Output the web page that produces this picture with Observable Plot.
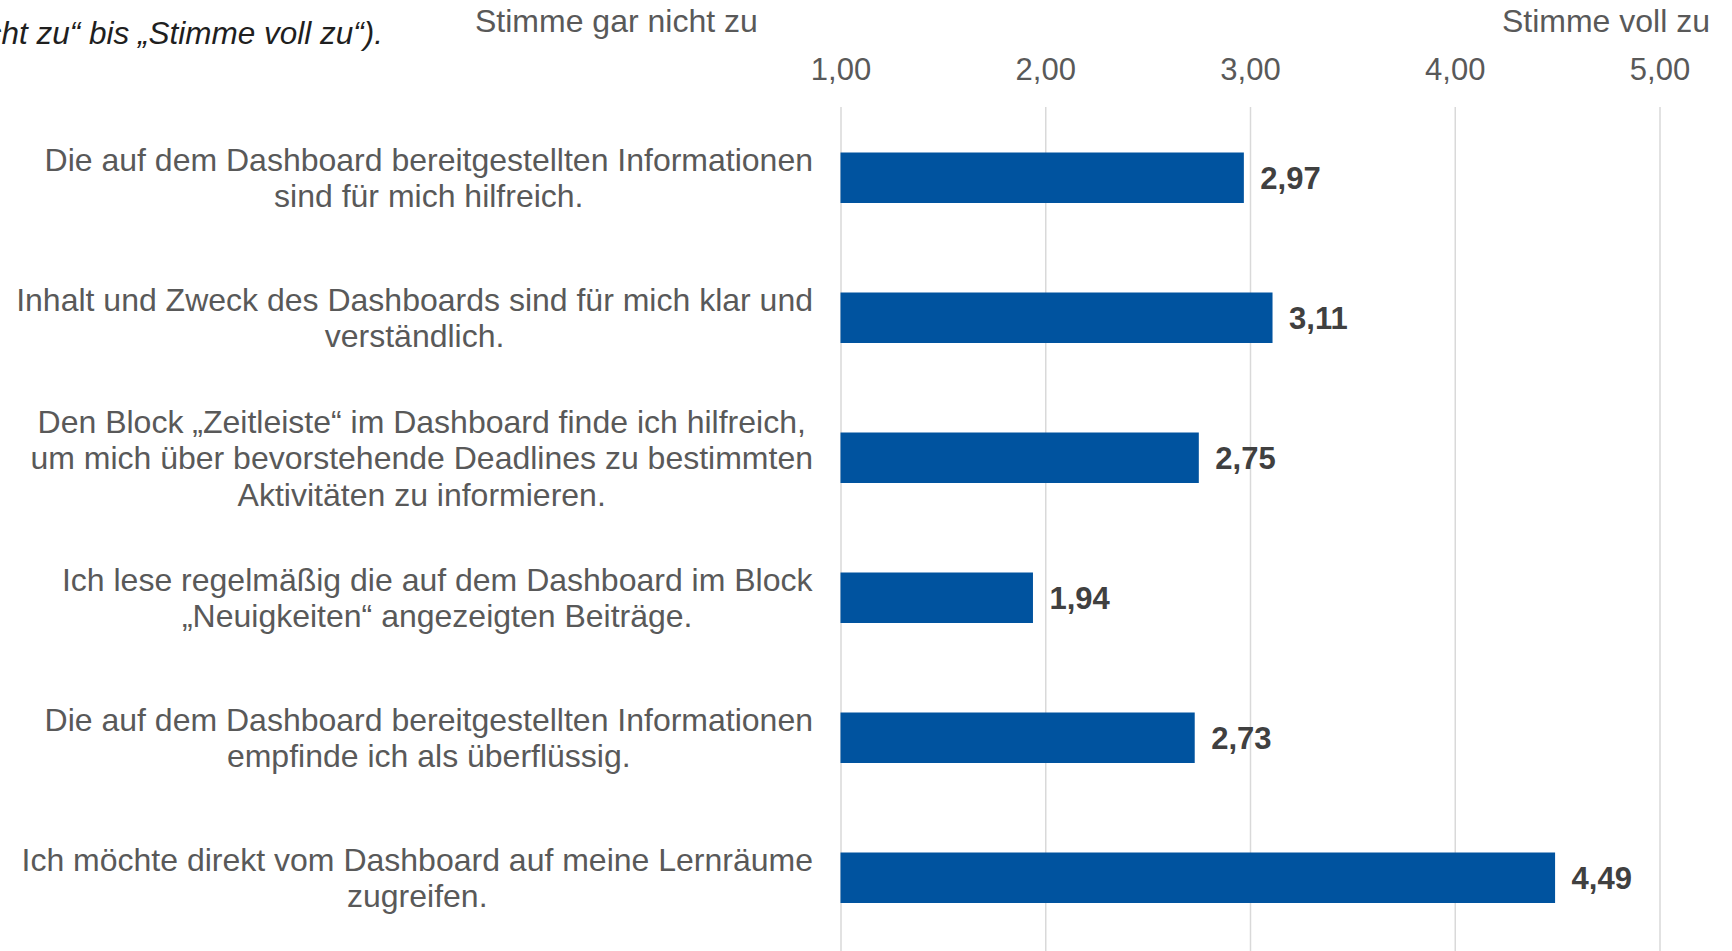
<!DOCTYPE html>
<html><head><meta charset="utf-8">
<script src="https://cdn.jsdelivr.net/npm/d3@7"></script>
<script src="https://cdn.jsdelivr.net/npm/@observablehq/plot@0.6"></script>
<style>
html,body{margin:0;padding:0;background:#fff;overflow:hidden;width:1732px;height:951px;}
body{position:relative;font-family:"Liberation Sans",Arial,sans-serif;}
.note{position:absolute;white-space:nowrap;line-height:1;z-index:2;}
#chart{position:absolute;left:0;top:0;z-index:1;}
</style></head><body>
<div class="note" id="cap" style="right:1349px;top:18px;font-size:31.5px;font-style:italic;color:#1f1f1f;"></div>
<div class="note" id="low" style="left:475px;top:5px;font-size:32px;color:#595959;"></div>
<div class="note" id="high" style="right:22px;top:5px;font-size:32px;color:#595959;"></div>
<div id="chart"></div>
<script>
const statements = [
  "Die auf dem Dashboard bereitgestellten Informationen\nsind für mich hilfreich.",
  "Inhalt und Zweck des Dashboards sind für mich klar und\nverständlich.",
  "Den Block „Zeitleiste“ im Dashboard finde ich hilfreich,\num mich über bevorstehende Deadlines zu bestimmten\nAktivitäten zu informieren.",
  "Ich lese regelmäßig die auf dem Dashboard im Block\n„Neuigkeiten“ angezeigten Beiträge.",
  "Die auf dem Dashboard bereitgestellten Informationen\nempfinde ich als überflüssig.",
  "Ich möchte direkt vom Dashboard auf meine Lernräume\nzugreifen."
];
const means = [2.97, 3.11, 2.75, 1.94, 2.73, 4.49];
const xTicks = [1, 2, 3, 4, 5];
const scaleMin = 1, scaleMax = 5;
const lowLabel = "Stimme gar nicht zu";
const highLabel = "Stimme voll zu";
const captionText = "(„Stimme gar nicht zu“ bis „Stimme voll zu“).";

document.getElementById("cap").textContent = captionText;
document.getElementById("low").textContent = lowLabel;
document.getElementById("high").textContent = highLabel;

const fmt = d3.formatLocale({decimal: ",", thousands: ".", grouping: [3], currency: ["", "€"]}).format(".2f");
const data = statements.map((s, i) => ({s, v: means[i]}));
const font = '"Liberation Sans", Arial, sans-serif';

const plot = Plot.plot({
  width: 1732, height: 951,
  marginTop: 107, marginBottom: 0, marginLeft: 840.5, marginRight: 72.5,
  style: {fontFamily: font, background: "transparent"},
  x: {domain: [scaleMin, scaleMax]},
  y: {domain: statements, paddingInner: 0.648, paddingOuter: 0.324},
  marks: [
    Plot.gridX(xTicks, {stroke: "#d9d9d9", strokeOpacity: 1, strokeWidth: 1.5}),
    Plot.barX(data, {x1: scaleMin, x2: "v", y: "s", fill: "#00539f", insetTop: -1.5}),
    Plot.text(data, {x: "v", y: "s", text: d => fmt(d.v), textAnchor: "start", dx: 16, fontSize: 31, fontWeight: "bold", fill: "#404040"}),
    Plot.axisX(xTicks, {anchor: "top", tickSize: 0, tickPadding: 27.5, tickFormat: fmt, fontSize: 31, fill: "#595959", label: null}),
    Plot.axisY({tickSize: 0, tickPadding: 28, fontSize: 32, fill: "#595959", lineHeight: 1.14, label: null, dy: -1.5})
  ]
});
document.getElementById("chart").append(plot);
plot.querySelectorAll('g[aria-label="y-axis tick label"] text').forEach(t => {
  const w = t.getBBox().width;
  t.setAttribute("text-anchor", "middle");
  t.setAttribute("transform", (t.getAttribute("transform") || "") + ` translate(${-w / 2},0)`);
});
</script>
</body></html>
